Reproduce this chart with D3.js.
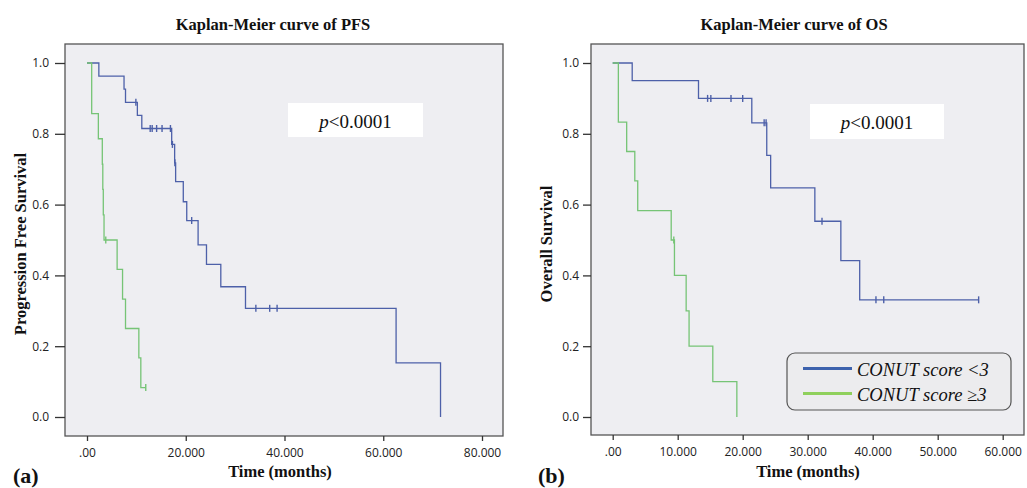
<!doctype html>
<html lang="en">
<head>
  <meta charset="utf-8">
  <title>Kaplan-Meier curves</title>
  <script src="https://d3js.org/d3.v7.min.js"></script>
  <style>
    body { margin: 0; background: #fff; }
    .tick text { font-family: "Open Sans", sans-serif; font-size: 12px; fill: #222; }
    .tick line { stroke: #333; stroke-width: 1.3; }
    .title, .axisTitle, .tag { font-family: "Liberation Serif", serif; font-weight: bold; fill: #111; }
  </style>
</head>
<body>
<div class="chart-container"></div>
<script>
  // PFS, CONUT score <3 (blue)
  const pfsLowTime = [0, 2.4, 7.5, 7.8, 10.2, 11.1, 17.15, 17.75, 17.95, 19.5, 20.2, 22.5, 24.2, 27.1, 32.1, 62.6, 71.6];
  const pfsLowSurv = [1, 0.963, 0.926, 0.889, 0.852, 0.815, 0.77, 0.718, 0.665, 0.608, 0.555, 0.486, 0.431, 0.368, 0.307, 0.153, 0];
  const pfsLowCensor = [9.9, 12.8, 13.2, 14.1, 15.2, 16.9, 17.3, 17.8, 21.2, 34.2, 37.0, 38.5];
  // PFS, CONUT score >=3 (green)
  const pfsHighTime = [0, 0.95, 2.3, 3.1, 3.2, 3.3, 3.45, 6.1, 7.2, 7.8, 10.5, 10.9];
  const pfsHighSurv = [1, 0.857, 0.786, 0.714, 0.643, 0.571, 0.5, 0.417, 0.333, 0.25, 0.167, 0.083];
  const pfsHighCensor = [3.8, 11.9];
  // OS, CONUT score <3 (blue)
  const osLowTime = [0, 3.0, 13.2, 21.4, 23.7, 24.3, 31.1, 35.1, 38.0];
  const osLowSurv = [1, 0.95, 0.9, 0.831, 0.739, 0.647, 0.553, 0.442, 0.331];
  const osLowCensor = [14.6, 15.1, 18.2, 20.0, 23.3, 23.6, 32.2, 40.5, 41.7, 56.3];
  // OS, CONUT score >=3 (green)
  const osHighTime = [0, 0.87, 2.15, 3.4, 3.85, 9.0, 9.5, 11.3, 11.75, 15.4, 19.1];
  const osHighSurv = [1, 0.833, 0.75, 0.667, 0.583, 0.5, 0.4, 0.3, 0.2, 0.1, 0];
  const osHighCensor = [9.4];

  const yTicks = [0, 0.2, 0.4, 0.6, 0.8, 1.0];
  const pfsXTicks = [0, 20, 40, 60, 80];
  const osXTicks = [0, 10, 20, 30, 40, 50, 60];
  const legendLabels = ['CONUT score <3', 'CONUT score ≥3'];

  const blue = '#4d60a9';
  const green = '#76c476';

  const svg = d3.select('.chart-container').append('svg')
    .attr('width', 1027)
    .attr('height', 488);

  const panels = [
    {
      title: 'Kaplan-Meier curve of PFS', titleX: 273, yTitle: 'Progression Free Survival', yTitleX: 26,
      tag: '(a)', tagX: 13, frame: { x0: 65, x1: 503, y0: 44, y1: 436 },
      xDomain: [0, 80], xRange: [87, 482], xTicks: pfsXTicks, xTitleX: 280,
      tickSize: 10, tickPad: 6, pBox: [288, 103, 135, 34],
      series: [
        { time: pfsLowTime, surv: pfsLowSurv, censor: pfsLowCensor, colour: blue },
        { time: pfsHighTime, surv: pfsHighSurv, censor: pfsHighCensor, colour: green }
      ]
    },
    {
      title: 'Kaplan-Meier curve of OS', titleX: 794, yTitle: 'Overall Survival', yTitleX: 552,
      tag: '(b)', tagX: 538, frame: { x0: 591, x1: 1024, y0: 44, y1: 435 },
      xDomain: [0, 60], xRange: [612.7, 1002.7], xTicks: osXTicks, xTitleX: 808,
      tickSize: 8, tickPad: 4, pBox: [810, 104, 134, 35], legend: true,
      series: [
        { time: osLowTime, surv: osLowSurv, censor: osLowCensor, colour: blue },
        { time: osHighTime, surv: osHighSurv, censor: osHighCensor, colour: green }
      ]
    }
  ];

  const survAt = (times, surv, t) => {
    let s = surv[0];
    times.forEach((ti, i) => { if (ti <= t) s = surv[i]; });
    return s;
  };

  panels.forEach(p => {
    const f = p.frame;
    const x = d3.scaleLinear().domain(p.xDomain).range(p.xRange);
    const y = d3.scaleLinear().domain([0, 1]).range([417, 63]);

    svg.append('rect')
      .attr('x', f.x0).attr('y', f.y0)
      .attr('width', f.x1 - f.x0).attr('height', f.y1 - f.y0)
      .attr('fill', '#eeeef2')
      .attr('stroke', '#555')
      .attr('stroke-width', 1.3);

    const yAxis = d3.axisLeft(y)
      .tickValues(yTicks)
      .tickSize(p.tickSize)
      .tickPadding(p.tickPad)
      .tickFormat(d3.format('.1f'));
    svg.append('g')
      .attr('transform', `translate(${f.x0}, 0)`)
      .call(yAxis)
      .call(g => g.select('.domain').remove());

    const xAxis = d3.axisBottom(x)
      .tickValues(p.xTicks)
      .tickSize(5)
      .tickPadding(7)
      .tickFormat(d => d === 0 ? '.00' : d3.format('.3f')(d));
    svg.append('g')
      .attr('transform', `translate(0, ${f.y1})`)
      .call(xAxis)
      .call(g => g.select('.domain').remove());

    const line = d3.line()
      .curve(d3.curveStepAfter)
      .x(d => x(d[0]))
      .y(d => y(d[1]));

    p.series.forEach(s => {
      const pts = s.time.map((t, i) => [t, s.surv[i]]);
      const tEnd = d3.max(s.censor.concat(s.time));
      pts.push([tEnd, s.surv[s.surv.length - 1]]);
      svg.append('path')
        .attr('d', line(pts))
        .attr('fill', 'none')
        .attr('stroke', s.colour)
        .attr('stroke-width', 1.3);

      // censor marks
      svg.selectAll(null)
        .data(s.censor)
        .enter()
        .append('line')
        .attr('x1', d => x(d))
        .attr('x2', d => x(d))
        .attr('y1', d => y(survAt(s.time, s.surv, d)) - 3.5)
        .attr('y2', d => y(survAt(s.time, s.surv, d)) + 3.5)
        .attr('stroke', s.colour)
        .attr('stroke-width', 1.4);
    });

    svg.append('rect')
      .attr('x', p.pBox[0]).attr('y', p.pBox[1])
      .attr('width', p.pBox[2]).attr('height', p.pBox[3])
      .attr('fill', '#fff');
    const pText = svg.append('text')
      .attr('x', p.pBox[0] + p.pBox[2] / 2)
      .attr('y', p.pBox[1] + 25)
      .attr('text-anchor', 'middle')
      .style('font-family', '"Liberation Serif", serif')
      .style('font-size', '19px')
      .style('fill', '#111');
    pText.append('tspan').style('font-style', 'italic').text('p');
    pText.append('tspan').text('<0.0001');

    svg.append('text')
      .attr('class', 'title')
      .attr('x', p.titleX).attr('y', 30)
      .attr('text-anchor', 'middle')
      .style('font-size', '16.5px')
      .text(p.title);

    svg.append('text')
      .attr('class', 'axisTitle')
      .attr('x', p.xTitleX).attr('y', 477)
      .attr('text-anchor', 'middle')
      .style('font-size', '16.5px')
      .text('Time (months)');

    svg.append('text')
      .attr('class', 'axisTitle')
      .attr('transform', `translate(${p.yTitleX}, 244) rotate(-90)`)
      .attr('text-anchor', 'middle')
      .style('font-size', '16.5px')
      .text(p.yTitle);

    svg.append('text')
      .attr('class', 'tag')
      .attr('x', p.tagX).attr('y', 483)
      .style('font-size', '22px')
      .text(p.tag);

    if (p.legend) {
      const lg = svg.append('g');
      lg.append('rect')
        .attr('x', 787).attr('y', 353)
        .attr('width', 224).attr('height', 57)
        .attr('rx', 8)
        .attr('fill', '#ececee')
        .attr('stroke', '#555')
        .attr('stroke-width', 1.2);
      const legendColours = ['#3d62ad', '#8fd05c'];
      legendLabels.forEach((lab, i) => {
        lg.append('line')
          .attr('x1', 803).attr('x2', 852)
          .attr('y1', 368.5 + i * 25).attr('y2', 368.5 + i * 25)
          .attr('stroke', legendColours[i])
          .attr('stroke-width', 3);
        lg.append('text')
          .attr('x', 857).attr('y', 375.5 + i * 25)
          .style('font-family', '"Liberation Serif", serif')
          .style('font-style', 'italic')
          .style('font-size', '18.5px')
          .style('fill', '#111')
          .text(lab);
      });
    }
  });
</script>
</body>
</html>
